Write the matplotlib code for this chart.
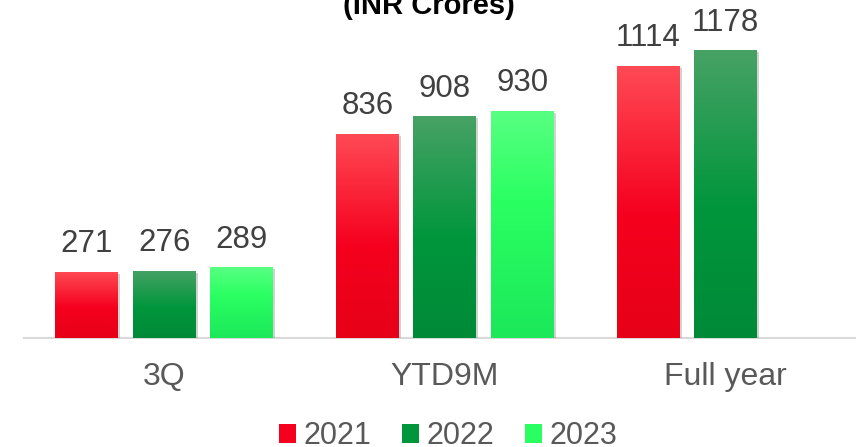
import numpy as np
import matplotlib
matplotlib.use("Agg")
import matplotlib.pyplot as plt
import matplotlib.patheffects as pe
from matplotlib.colors import LinearSegmentedColormap
from matplotlib.patches import Patch

plt.rcParams['font.family'] = ['Liberation Sans', 'DejaVu Sans']

# data
categories = ['3Q', 'YTD9M', 'Full year']
years = ['2021', '2022', '2023']
v2021 = [271, 836, 1114]
v2022 = [276, 908, 1178]
v2023 = [289, 930, np.nan]   # no full year figure yet
title = '(INR Crores)'

# gradient stops (bottom, middle, top) per series
grads = {
    '2021': [(0.0, '#e60018'), (0.45, '#f5001e'), (1.0, '#ff4a55')],
    '2022': [(0.0, '#008a38'), (0.45, '#00963c'), (1.0, '#47a265')],
    '2023': [(0.0, '#1ce85a'), (0.6, '#2aff62'), (1.0, '#58ff82')],
}
solid = {'2021': '#f5001e', '2022': '#00963c', '2023': '#2aff62'}

fig = plt.figure(figsize=(8.56, 4.47), dpi=100)
ax = fig.add_axes([24 / 856, 109 / 447, 1 - 24 / 856, 0.7103])

x = np.arange(len(categories))
width = 0.2244
step = 0.276
ramp = np.linspace(0, 1, 256).reshape(-1, 1)

for i, (yr, vals) in enumerate(zip(years, [v2021, v2022, v2023])):
    cmap = LinearSegmentedColormap.from_list(yr, grads[yr])
    bars = ax.bar(x + (i - 1) * step, vals, width, color=solid[yr], zorder=2,
                  path_effects=[pe.SimplePatchShadow(offset=(1.5, -1.5), shadow_rgbFace='#808080', alpha=0.35),
                                pe.Normal()])
    for b, v in zip(bars, vals):
        if np.isnan(v):
            continue
        x0 = b.get_x()
        im = ax.imshow(ramp, cmap=cmap, origin='lower', aspect='auto', zorder=2.5,
                       extent=[x0, x0 + b.get_width(), 0, v], interpolation='bilinear')
        im.set_clip_path(b)
        ax.annotate(f'{v:g}', (b.get_x() + b.get_width() / 2, v), xytext=(0, 9),
                    textcoords='offset points', ha='center', va='bottom',
                    fontsize=22.5, color='#404040')

ax.set_xlim(-0.5, 2.465)
ax.set_ylim(0, 1300)
ax.set_xticks(x)
ax.set_xticklabels(categories, fontsize=23, color='#595959')
ax.tick_params(axis='x', length=0, pad=17)
ax.set_yticks([])
for s in ['top', 'right', 'left']:
    ax.spines[s].set_visible(False)
ax.spines['bottom'].set_color('#d9d9d9')
ax.spines['bottom'].set_linewidth(1.5)
ax.spines['bottom'].set_zorder(1)

fig.text(429 / 856, 1 - 14 / 447, title, ha='center', va='baseline',
         fontsize=21, fontweight='bold', color='black')

handles = [Patch(facecolor=solid[y]) for y in years]
leg = fig.legend(handles, years, loc='center', bbox_to_anchor=(448 / 856, 11 / 447),
                 ncol=3, frameon=False, fontsize=22, handlelength=0.56, handleheight=0.56,
                 handletextpad=0.25, columnspacing=1.0, borderpad=0)
for t in leg.get_texts():
    t.set_color('#595959')

fig.savefig('out.png', dpi=100)
